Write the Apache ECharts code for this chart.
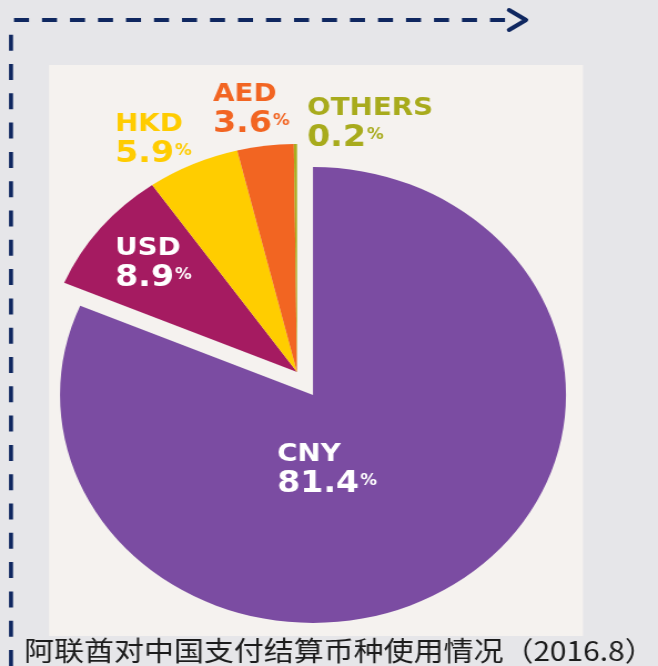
<!DOCTYPE html>
<html>
<head>
<meta charset="utf-8">
<script src="https://cdn.jsdelivr.net/npm/echarts@6/dist/echarts.min.js"></script>
<style>
  html, body { margin: 0; padding: 0; background: #e6e6e9; overflow: hidden; }
  /* the source picture is stretched sideways, so the whole chart is too */
  #chart { width: 593px; height: 666px; transform: scaleX(1.1096); transform-origin: 0 0; }
</style>
</head>
<body>
<div id="chart"></div>
<script>
const SX = 658 / 593;

const names = ['CNY', 'USD', 'HKD', 'AED', 'OTHERS'];
const shares = [81.4, 8.9, 5.9, 3.6, 0.2];
const sliceColors = ['#7b4ca2', '#a51b61', '#ffcd00', '#f26522', '#a9ad1e'];
const labelColors = ['#ffffff', '#ffffff', '#ffcc00', '#f26522', '#a8ab1c'];
const caption = '阿联酋对中国支付结算币种使用情况（2016.8）';

// top-left corner of each label, page pixels
const labelAt = [[277, 443], [115, 237], [115, 113], [213, 83], [307, 97]];

const chart = echarts.init(document.getElementById('chart'));

function sliceData(showIdx) {
  return names.map((n, i) => {
    const on = showIdx(i);
    return {
      name: n,
      value: shares[i],
      itemStyle: { color: on ? sliceColors[i] : 'transparent' },
      label: { show: on, color: labelColors[i] }
    };
  });
}

const labelStyle = {
  position: 'inside',
  fontFamily: 'DejaVu Sans',
  fontWeight: 'bold',
  formatter: p => `{n|${p.name}}\n{v|${p.value}}{p|%}`,
  rich: {
    n: { fontSize: 25, lineHeight: 30, fontWeight: 'bold', fontFamily: 'DejaVu Sans' },
    v: { fontSize: 30, lineHeight: 30, fontWeight: 'bold', fontFamily: 'DejaVu Sans' },
    p: { fontSize: 15, fontWeight: 'bold', fontFamily: 'DejaVu Sans', padding: [0, 0, 6, 1] }
  }
};

function placeLabel(params) {
  const p = labelAt[params.dataIndex];
  return { x: p[0] / SX, y: p[1] - 4, align: 'left', verticalAlign: 'top' };
}

const R = 228;

var option = {
  backgroundColor: '#e6e6e9',
  animation: false,
  graphic: [
    { type: 'rect', z: -10, shape: { x: 49 / SX, y: 65, width: 534 / SX, height: 571 }, style: { fill: '#f5f2ef' } },
    // dashed arrow round the panel
    {
      type: 'polyline', z: -5,
      shape: { points: [[11 / SX, 666], [11 / SX, 29]] },
      style: { stroke: '#0f2760', lineWidth: 4 / SX, lineDash: [16, 13.3], fill: null }
    },
    {
      type: 'polyline', z: -5,
      shape: { points: [[14 / SX, 20], [505 / SX, 20]] },
      style: { stroke: '#0f2760', lineWidth: 4, lineDash: [15 / SX, 13 / SX], fill: null }
    },
    {
      type: 'polyline', z: -5,
      shape: { points: [[509 / SX, 10], [526 / SX, 20], [509 / SX, 30]] },
      style: { stroke: '#0f2760', lineWidth: 4, fill: null, lineJoin: 'round', lineCap: 'round' }
    },
    {
      type: 'text', z: -5,
      x: 24 / SX, y: 651,
      style: {
        text: caption,
        font: '27px "Noto Sans CJK SC"',
        fill: '#1c1c1c',
        verticalAlign: 'middle'
      }
    }
  ],
  series: [
    {
      type: 'pie',
      center: [313 / SX, 395],
      radius: R,
      startAngle: 90,
      silent: true,
      emphasis: { disabled: true },
      labelLine: { show: false },
      label: labelStyle,
      labelLayout: placeLabel,
      data: sliceData(i => i === 0)
    },
    {
      // the smaller currencies are pulled out together
      type: 'pie',
      center: [297 / SX, 372],
      radius: R,
      startAngle: 90,
      silent: true,
      emphasis: { disabled: true },
      labelLine: { show: false },
      label: labelStyle,
      labelLayout: placeLabel,
      data: sliceData(i => i > 0)
    }
  ]
};

chart.setOption(option);
</script>
</body>
</html>
